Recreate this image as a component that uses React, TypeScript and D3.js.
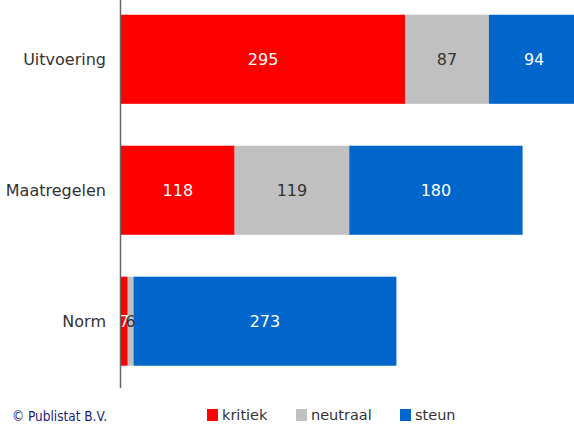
import React from "react";
import * as d3 from "d3";

const categories = ["Uitvoering", "Maatregelen", "Norm"];
const seriesNames = ["kritiek", "neutraal", "steun"];
const kritiek = [295, 118, 7];
const neutraal = [87, 119, 6];
const steun = [94, 180, 273];
const colors = ["#ff0000", "#c0c0c0", "#0066cc"];
const labelColors = ["#ffffff", "#333333", "#ffffff"];

const W = 574;
const H = 428;

export default function App() {
  const rows = categories.map((c, i) => ({
    cat: c,
    kritiek: kritiek[i],
    neutraal: neutraal[i],
    steun: steun[i],
  }));
  const stack = d3.stack<any>().keys(seriesNames)(rows);
  const y = d3
    .scaleBand<string>()
    .domain(categories)
    .range([-7.5, 388])
    .paddingInner(0.32)
    .paddingOuter(0.17);
  const x = d3.scaleLinear().domain([0, 500]).range([121, 602.5]);
  const font = "Tahoma, 'DejaVu Sans', sans-serif";
  const legendX = [207, 296, 400];

  return (
    <svg
      width={W}
      height={H}
      style={{ position: "absolute", left: 0, top: 0, background: "#fff" }}
      fontFamily={font}
    >
      {stack.map((s, si) =>
        s.map((d, i) => (
          <rect
            key={`${si}-${i}`}
            x={x(d[0])}
            y={y(categories[i])}
            width={x(d[1]) - x(d[0])}
            height={y.bandwidth()}
            fill={colors[si]}
          />
        ))
      )}
      {stack.map((s, si) =>
        s.map((d, i) => (
          <text
            key={`t${si}-${i}`}
            x={(x(d[0]) + x(d[1])) / 2}
            y={(y(categories[i]) as number) + y.bandwidth() / 2}
            dy="0.35em"
            textAnchor="middle"
            fontSize={16}
            fill={labelColors[si]}
          >
            {d[1] - d[0]}
          </text>
        ))
      )}
      <line x1={120.5} x2={120.5} y1={0} y2={388} stroke="#666" strokeWidth={1.5} />
      {categories.map((c) => (
        <text
          key={c}
          x={106}
          y={(y(c) as number) + y.bandwidth() / 2}
          dy="0.35em"
          textAnchor="end"
          fontSize={16}
          fill="#333"
        >
          {c}
        </text>
      ))}
      <text
        x={12}
        y={421}
        fontSize={14}
        fill="#1a1a80"
        textLength={95}
        lengthAdjust="spacingAndGlyphs"
      >
        © Publistat B.V.
      </text>
      {seriesNames.map((n, i) => (
        <g key={n}>
          <rect x={legendX[i]} y={409} width={11} height={12} fill={colors[i]} />
          <text x={legendX[i] + 15} y={420} fontSize={14.5} fill="#333">
            {n}
          </text>
        </g>
      ))}
    </svg>
  );
}
